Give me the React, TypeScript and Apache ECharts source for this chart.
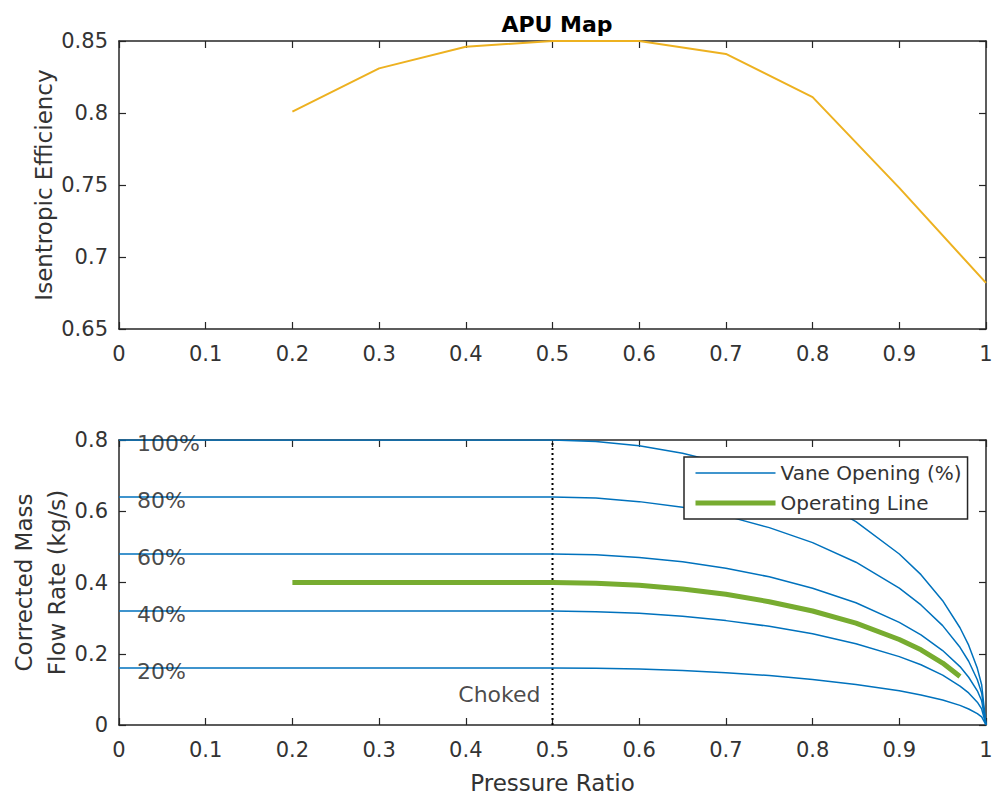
import React, { useEffect, useRef } from "react";
import * as echarts from "echarts";

// ---- Top subplot data ----
const effPressureRatio = [0.2, 0.3, 0.4, 0.5, 0.6, 0.7, 0.8, 0.9, 1.0];
const effValues = [0.801, 0.831, 0.846, 0.85, 0.85, 0.841, 0.811, 0.748, 0.682];

// ---- Bottom subplot data ----
const vanePR = [0, 0.5, 0.55, 0.6, 0.65, 0.7, 0.75, 0.8, 0.85, 0.9, 0.925, 0.95, 0.97, 0.98, 0.99, 0.995, 1.0];
const vane100 = [0.8, 0.8, 0.796, 0.784, 0.763, 0.733, 0.693, 0.64, 0.571, 0.48, 0.422, 0.349, 0.273, 0.224, 0.159, 0.113, 0];
const vane80 = [0.64, 0.64, 0.637, 0.627, 0.611, 0.587, 0.554, 0.512, 0.457, 0.384, 0.337, 0.279, 0.218, 0.179, 0.127, 0.09, 0];
const vane60 = [0.48, 0.48, 0.478, 0.47, 0.458, 0.44, 0.416, 0.384, 0.343, 0.288, 0.253, 0.209, 0.164, 0.134, 0.096, 0.068, 0];
const vane40 = [0.32, 0.32, 0.318, 0.314, 0.305, 0.293, 0.277, 0.256, 0.228, 0.192, 0.169, 0.14, 0.109, 0.09, 0.064, 0.045, 0];
const vane20 = [0.16, 0.16, 0.159, 0.157, 0.153, 0.147, 0.139, 0.128, 0.114, 0.096, 0.084, 0.07, 0.055, 0.045, 0.032, 0.023, 0];
const vaneLabels = ["100%", "80%", "60%", "40%", "20%"];

const opPR = [0.2, 0.5, 0.55, 0.6, 0.65, 0.7, 0.75, 0.8, 0.85, 0.9, 0.925, 0.95, 0.97];
const opValues = [0.4, 0.4, 0.398, 0.392, 0.382, 0.367, 0.346, 0.32, 0.286, 0.24, 0.211, 0.174, 0.136];

const chokeX = 0.5;
const chokeLabelY = 0.087;

const FONT = "DejaVu Sans";
const AX = "#262626";
const BLUE = "#0072BD";
const GREEN = "#77AC30";
const YELLOW = "#EDB120";

export default function App() {
  const ref = useRef<HTMLDivElement>(null);

  useEffect(() => {
    if (!ref.current) return;
    const chart = echarts.init(ref.current, null, { renderer: "svg" });

    const axisCommon = {
      axisLine: { show: true, onZero: false, lineStyle: { color: AX, width: 1.5 } },
      axisTick: { show: true, inside: true, length: 7, lineStyle: { color: AX, width: 1.2 } },
      splitLine: { show: false },
      nameMoveOverlap: false,
    };
    const labelStyle = { color: "#333333", fontFamily: FONT, fontSize: 21 };
    const nameStyle = { color: "#333333", fontFamily: FONT, fontSize: 23 };

    const vaneSets = [vane100, vane80, vane60, vane40, vane20];
    const vaneSeries = vaneSets.map((vals) => ({
      type: "line",
      name: "Vane Opening (%)",
      xAxisIndex: 2,
      yAxisIndex: 2,
      showSymbol: false,
      symbol: "none",
      lineStyle: { color: BLUE, width: 1.5 },
      itemStyle: { color: BLUE },
      data: vanePR.map((x, j) => [x, vals[j]]),
      z: 3,
    }));

    chart.setOption({
      animation: false,
      backgroundColor: "#ffffff",
      title: {
        text: "APU Map",
        left: 552,
        textAlign: "center",
        top: 8,
        textStyle: { fontFamily: FONT, fontSize: 22, fontWeight: "bold", color: "#000" },
      },
      legend: {
        data: [
          { name: "Vane Opening (%)", lineStyle: { width: 1.5 } },
          { name: "Operating Line", lineStyle: { width: 5 } },
        ],
        orient: "vertical",
        left: 684,
        top: 457,
        itemWidth: 80,
        itemHeight: 14,
        itemGap: 10,
        padding: [6, 6, 6, 9],
        backgroundColor: "#ffffff",
        borderColor: AX,
        borderWidth: 1.5,
        borderRadius: 0,
        selectedMode: false,
        itemStyle: { color: "rgba(0,0,0,0)", borderColor: "rgba(0,0,0,0)", borderWidth: 0, opacity: 0 },
        textStyle: { color: "#333333", fontFamily: FONT, fontSize: 20 },
      },
      grid: [
        { left: 119, top: 41, width: 867, height: 288, containLabel: false, outerBoundsMode: "none" },
        { left: 119, top: 440, width: 867, height: 285, containLabel: false, outerBoundsMode: "none" },
      ],
      xAxis: [
        {
          ...axisCommon,
          type: "value",
          gridIndex: 0,
          position: "bottom",
          min: 0,
          max: 1,
          interval: 0.1,
          axisLabel: { ...labelStyle, margin: 14 },
        },
        {
          ...axisCommon,
          type: "value",
          gridIndex: 0,
          position: "top",
          min: 0,
          max: 1,
          interval: 0.1,
          axisLabel: { show: false },
        },
        {
          ...axisCommon,
          type: "value",
          gridIndex: 1,
          position: "bottom",
          min: 0,
          max: 1,
          interval: 0.1,
          name: "Pressure Ratio",
          nameLocation: "middle",
          nameGap: 46,
          nameTextStyle: nameStyle,
          axisLabel: { ...labelStyle, margin: 14 },
        },
        {
          ...axisCommon,
          type: "value",
          gridIndex: 1,
          position: "top",
          min: 0,
          max: 1,
          interval: 0.1,
          axisLabel: { show: false },
        },
      ],
      yAxis: [
        {
          ...axisCommon,
          type: "value",
          gridIndex: 0,
          position: "left",
          min: 0.65,
          max: 0.85,
          interval: 0.05,
          name: "Isentropic Efficiency",
          nameLocation: "middle",
          nameRotate: 90,
          nameGap: 64,
          nameTextStyle: nameStyle,
          axisLabel: { ...labelStyle, margin: 11 },
        },
        {
          ...axisCommon,
          type: "value",
          gridIndex: 0,
          position: "right",
          min: 0.65,
          max: 0.85,
          interval: 0.05,
          axisLabel: { show: false },
        },
        {
          ...axisCommon,
          type: "value",
          gridIndex: 1,
          position: "left",
          min: 0,
          max: 0.8,
          interval: 0.2,
          name: "Corrected Mass\nFlow Rate (kg/s)",
          nameLocation: "middle",
          nameRotate: 90,
          nameGap: 46,
          nameTextStyle: { ...nameStyle, lineHeight: 33 },
          axisLabel: { ...labelStyle, margin: 11 },
        },
        {
          ...axisCommon,
          type: "value",
          gridIndex: 1,
          position: "right",
          min: 0,
          max: 0.8,
          interval: 0.2,
          axisLabel: { show: false },
        },
      ],
      series: [
        {
          type: "line",
          name: "Efficiency",
          xAxisIndex: 0,
          yAxisIndex: 0,
          showSymbol: false,
          symbol: "none",
          lineStyle: { color: YELLOW, width: 2 },
          itemStyle: { color: YELLOW },
          data: effPressureRatio.map((x, i) => [x, effValues[i]]),
        },
        ...vaneSeries,
        {
          type: "line",
          name: "Operating Line",
          xAxisIndex: 2,
          yAxisIndex: 2,
          showSymbol: false,
          symbol: "none",
          lineStyle: { color: GREEN, width: 5 },
          itemStyle: { color: GREEN },
          data: opPR.map((x, i) => [x, opValues[i]]),
          z: 4,
        },
        {
          type: "line",
          name: "Choked Limit",
          xAxisIndex: 2,
          yAxisIndex: 2,
          showSymbol: false,
          symbol: "none",
          lineStyle: { color: "#000", width: 2, type: [2, 3] },
          data: [
            [chokeX, 0],
            [chokeX, 0.8],
          ],
          z: 2,
        },
        {
          type: "scatter",
          name: "Vane Labels",
          xAxisIndex: 2,
          yAxisIndex: 2,
          symbolSize: 0,
          silent: true,
          z: 5,
          data: vaneSets.map((vals, i) => ({
            value: [vanePR[0], vals[0]],
            label: {
              show: true,
              formatter: vaneLabels[i],
              position: "right",
              distance: 18,
              offset: [0, 3],
              color: "#1a1a1a",
              fontFamily: FONT,
              fontSize: 22,
            },
          })),
        },
        {
          type: "scatter",
          name: "Choked",
          xAxisIndex: 2,
          yAxisIndex: 2,
          symbolSize: 0,
          silent: true,
          label: {
            show: true,
            formatter: "Choked",
            position: "left",
            distance: 12,
            color: "#1a1a1a",
            fontFamily: FONT,
            fontSize: 22,
          },
          data: [[chokeX, chokeLabelY]],
        },
      ],
    });

    return () => chart.dispose();
  }, []);

  return (
    <div
      ref={ref}
      style={{ position: "absolute", left: 0, top: 0, width: 997, height: 804, background: "#fff" }}
    />
  );
}
